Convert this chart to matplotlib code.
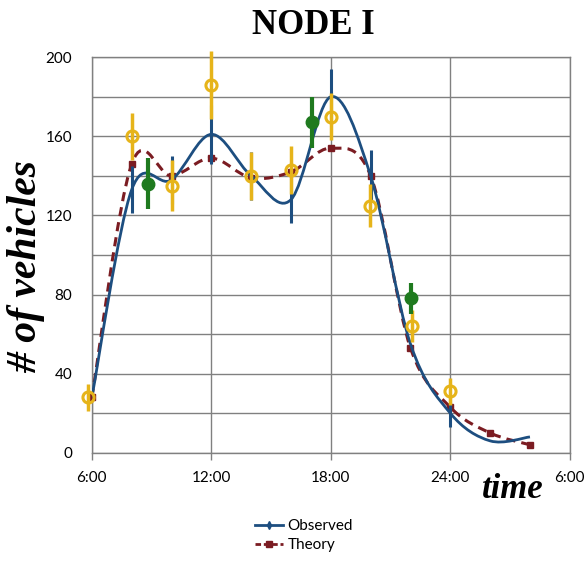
import matplotlib
matplotlib.use("Agg")
import matplotlib.pyplot as plt
import numpy as np
from matplotlib.path import Path
from matplotlib.patches import PathPatch
from matplotlib.lines import Line2D

# hours after midnight (6:00 .. 6:00 next day = 6 .. 30)
obs_hours = [6, 8, 10, 12, 14, 16, 18, 20, 22, 24, 26, 28]
obs_values = [28, 133, 138, 161, 140, 128, 180, 140, 55, 20, 6, 8]
obs_err = [0, 12, 12, 15, 12, 12, 14, 13, 0, 7, 0, 0]

theory_hours = [6, 8, 10, 12, 14, 16, 18, 20, 22, 24, 26, 28]
theory_values = [28, 146, 140, 149, 139, 142, 154, 140, 53, 23, 10, 4]

yellow_hours = [5.8, 8, 10, 12, 14, 16, 18, 19.95, 22.1, 24]
yellow_values = [28, 160, 135, 186, 140, 143, 170, 125, 64, 31]
yellow_err = [7, 12, 13, 17, 12, 12, 12, 11, 8, 7]

green_hours = [8.8, 17.05, 22.05]
green_values = [136, 167, 78]
green_err = [13, 13, 8]

xtick_pos = [6, 12, 18, 24, 30]
xtick_labels = ["6:00", "12:00", "18:00", "24:00", "6:00"]

BLUE = "#1d4e80"
RED = "#7b1c22"
YELLOW = "#e6b41a"
GREEN = "#1f7a1f"


def smooth_curve(xs, ys):
    # Excel style smoothed line: Catmull-Rom segments as cubic Beziers
    pts = np.column_stack([xs, ys]).astype(float)
    n = len(pts)
    verts = [pts[0]]
    codes = [Path.MOVETO]
    for i in range(n - 1):
        p0 = pts[i - 1] if i > 0 else pts[i]
        p1 = pts[i]
        p2 = pts[i + 1]
        p3 = pts[i + 2] if i + 2 < n else pts[i + 1]
        verts += [p1 + (p2 - p0) / 6.0, p2 - (p3 - p1) / 6.0, p2]
        codes += [Path.CURVE4] * 3
    return Path(verts, codes)


fig = plt.figure(figsize=(5.85, 5.61), dpi=100)
ax = fig.add_axes([0.157, 0.193, 0.817, 0.705])

ax.set_xlim(6, 30)
ax.set_ylim(0, 200)
ax.set_yticks(np.arange(0, 201, 20))
ax.set_yticklabels([str(v) if v % 40 == 0 else "" for v in range(0, 201, 20)],
                   fontfamily="Lato", fontsize=11)
ax.set_xticks(xtick_pos)
ax.set_xticklabels(xtick_labels, fontfamily="Lato", fontsize=11)
ax.tick_params(axis="y", length=0, pad=14)
ax.tick_params(axis="x", length=5, width=1, color="#808080", pad=8, direction="out")
ax.grid(True, color="#808080", linewidth=1)
for s in ax.spines.values():
    s.set_color("#808080")
    s.set_linewidth(1)
ax.set_axisbelow(True)

# theory (dashed maroon, smoothed)
ax.add_patch(PathPatch(smooth_curve(theory_hours, theory_values), fill=False,
                       edgecolor=RED, linewidth=2.2, linestyle=(0, (3, 2)), zorder=3))
ax.plot(theory_hours, theory_values, "s", color=RED, markersize=5, zorder=4, clip_on=False)

# observed (solid blue, smoothed)
ax.add_patch(PathPatch(smooth_curve(obs_hours, obs_values), fill=False,
                       edgecolor=BLUE, linewidth=2.0, zorder=5))
ax.errorbar(obs_hours, obs_values, yerr=obs_err, fmt="none", ecolor=BLUE,
            elinewidth=2.2, zorder=5)

# measured points
ax.errorbar(yellow_hours, yellow_values, yerr=yellow_err, fmt="o", color=YELLOW,
            mfc="none", mec=YELLOW, mew=2.2, markersize=8, elinewidth=2.5,
            zorder=6, clip_on=False)
ax.errorbar(green_hours, green_values, yerr=green_err, fmt="o", color=GREEN,
            markersize=9, elinewidth=3, zorder=6)

fig.text(0.535, 0.955, "NODE I", ha="center", va="center", fontfamily="Liberation Serif",
         fontweight="bold", fontsize=25)
fig.text(0.045, 0.525, "# of vehicles", ha="center", va="center", rotation=90,
         fontfamily="Liberation Serif", fontweight="bold", fontstyle="italic", fontsize=30)
fig.text(0.877, 0.128, "time", ha="center", va="center", fontfamily="Liberation Serif",
         fontweight="bold", fontstyle="italic", fontsize=25)

handles = [Line2D([], [], color=BLUE, linewidth=2, marker="d", markersize=4),
           Line2D([], [], color=RED, linewidth=2, linestyle=(0, (2, 1)), marker="s", markersize=4)]
fig.legend(handles, ["Observed", "Theory"], loc="center", bbox_to_anchor=(0.52, 0.045),
           frameon=False, prop={"family": "Lato", "size": 11}, handlelength=1.8,
           handletextpad=0.3, labelspacing=0.3)

fig.savefig("out.png", dpi=100)
